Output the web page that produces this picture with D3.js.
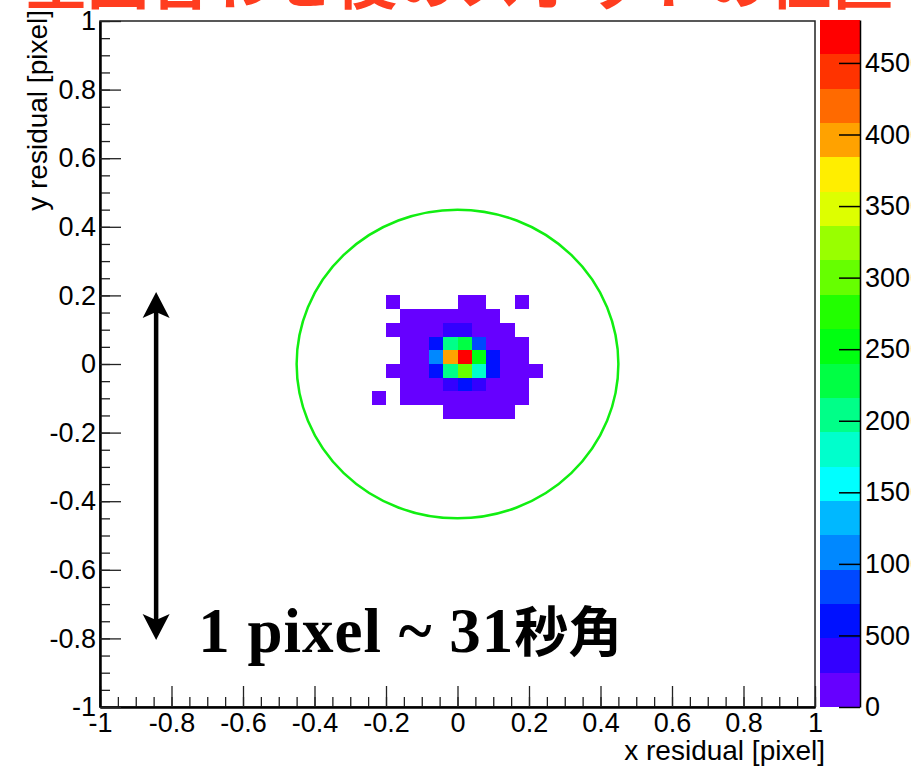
<!DOCTYPE html>
<html>
  <head>
    <meta charset="UTF-8" />
    <style>
      body {
        margin: 0;
        background: #fff;
      }
      svg {
        display: block;
        font-family: "Liberation Sans", Arial, sans-serif;
      }
      .tick text {
        font-size: 27px;
        fill: #000;
      }
      .title {
        font-family: "Noto Sans CJK JP", sans-serif;
        font-weight: 700;
      }
      .note {
        font-family: "Liberation Serif", "Noto Sans CJK JP", serif;
        font-weight: 700;
      }
    </style>
  </head>
  <body>
    <svg></svg>
    <script src="https://d3js.org/d3.v7.min.js"></script>
    <script>
      let width = 911,
        height = 766;

      // bin lower edges (bin size 0.04 pixel)
      const binSize = 0.04;
      const colX = [-0.24, -0.2, -0.16, -0.12, -0.08, -0.04, 0, 0.04, 0.08, 0.12, 0.16, 0.2];
      const rowY = [0.16, 0.12, 0.08, 0.04, 0, -0.04, -0.08, -0.12, -0.16];

      // entries per bin, rows top to bottom
      const counts = [
        [0, 4, 0, 0, 0, 0, 9, 6, 0, 0, 3, 0],
        [0, 0, 12, 28, 45, 70, 84, 52, 30, 0, 0, 0],
        [0, 5, 31, 66, 150, 310, 330, 180, 95, 22, 0, 0],
        [0, 0, 40, 120, 590, 2040, 2290, 830, 210, 64, 11, 0],
        [0, 0, 52, 180, 1060, 3950, 4760, 2510, 600, 110, 18, 0],
        [0, 7, 46, 160, 560, 2010, 2990, 1790, 540, 96, 25, 5],
        [0, 0, 30, 95, 230, 350, 520, 320, 190, 58, 14, 0],
        [3, 0, 16, 40, 88, 140, 160, 120, 70, 26, 8, 0],
        [0, 0, 0, 0, 0, 20, 35, 28, 15, 6, 0, 0],
      ];

      const axisTicks = [-1, -0.8, -0.6, -0.4, -0.2, 0, 0.2, 0.4, 0.6, 0.8, 1];
      const zTicks = [0, 500, 1000, 1500, 2000, 2500, 3000, 3500, 4000, 4500];
      const zMax = 4800;

      // 20 contour colours, low to high
      const palette = [
        "#6600ff", "#3300ff", "#0011ff", "#0048ff", "#0088ff",
        "#00b8ff", "#00ffff", "#00ffcc", "#00ff88", "#00ff44",
        "#00ff11", "#22ff00", "#66ff00", "#99ff00", "#ddff00",
        "#ffee00", "#ffa200", "#ff6a00", "#ff3300", "#ff0000",
      ];

      const circleRadius = 0.45;
      const arrowX = -0.843;
      const arrowEnds = [0.21, -0.805];
      const noteAt = [-0.725, -0.84];
      const titleText = "星図合わせ後のスポットの位置";

      let svg = d3.select("svg").attr("width", width).attr("height", height);

      let x = d3.scaleLinear().domain([-1, 1]).range([100, 815]);
      let y = d3.scaleLinear().domain([-1, 1]).range([707, 21]);
      let z = d3.scaleLinear().domain([0, zMax]).range([707, 20]);
      let color = d3.scaleQuantize().domain([0, zMax]).range(palette);

      let fmt = (d) => String(+d.toFixed(1));

      // title (cut off by the top edge)
      svg
        .append("text")
        .attr("class", "title")
        .attr("x", 25)
        .attr("y", 4)
        .attr("font-size", 62)
        .attr("fill", "#ff3d1f")
        .text(titleText);

      // cells
      let cells = [];
      counts.forEach((row, i) => {
        row.forEach((c, j) => {
          if (c > 0) cells.push({ x0: colX[j], y0: rowY[i], n: c });
        });
      });

      svg
        .append("g")
        .attr("id", "cells")
        .selectAll("rect")
        .data(cells)
        .enter()
        .append("rect")
        .attr("x", (d) => x(d.x0))
        .attr("y", (d) => y(d.y0 + binSize))
        .attr("width", (d) => x(d.x0 + binSize) - x(d.x0))
        .attr("height", (d) => y(d.y0) - y(d.y0 + binSize))
        .attr("fill", (d) => color(d.n))
        .attr("shape-rendering", "crispEdges");

      // green circle
      svg
        .append("ellipse")
        .attr("cx", x(0))
        .attr("cy", y(0))
        .attr("rx", x(circleRadius) - x(0))
        .attr("ry", y(0) - y(circleRadius))
        .attr("fill", "none")
        .attr("stroke", "#11ee11")
        .attr("stroke-width", 2.5);

      // frame
      svg
        .append("rect")
        .attr("x", x(-1))
        .attr("y", y(1))
        .attr("width", x(1) - x(-1))
        .attr("height", y(-1) - y(1))
        .attr("fill", "none")
        .attr("stroke", "#222")
        .attr("stroke-width", 1.5);

      // axes: major + minor ticks pointing inwards
      let minor = d3.range(-1, 1.0001, 0.05);

      let xg = svg.append("g").attr("transform", "translate(0," + y(-1) + ")");
      xg.call(d3.axisBottom(x).tickValues(minor).tickSize(-10).tickSizeOuter(0).tickFormat(""));
      xg.append("g").call(
        d3.axisBottom(x).tickValues(axisTicks).tickSize(-21).tickSizeOuter(0).tickPadding(6).tickFormat(fmt)
      );

      let yg = svg.append("g").attr("transform", "translate(" + x(-1) + ",0)");
      yg.call(d3.axisLeft(y).tickValues(minor).tickSize(-10).tickSizeOuter(0).tickFormat(""));
      yg.append("g").call(
        d3.axisLeft(y).tickValues(axisTicks).tickSize(-21).tickSizeOuter(0).tickPadding(4).tickFormat(fmt)
      );

      svg.selectAll(".domain").attr("stroke-width", 2);
      svg.selectAll(".tick line").attr("stroke", "#222").attr("stroke-width", 1.3);

      // axis titles
      svg
        .append("text")
        .attr("x", 825)
        .attr("y", 760)
        .attr("text-anchor", "end")
        .attr("font-size", 28)
        .text("x residual [pixel]");

      svg
        .append("text")
        .attr("transform", "translate(47,10) rotate(-90)")
        .attr("text-anchor", "end")
        .attr("font-size", 28)
        .text("y residual [pixel]");

      // colour bar
      svg
        .append("g")
        .attr("id", "palette")
        .selectAll("rect")
        .data(palette)
        .enter()
        .append("rect")
        .attr("x", 820)
        .attr("width", 40)
        .attr("y", (c) => z(color.invertExtent(c)[1]))
        .attr("height", (c) => z(color.invertExtent(c)[0]) - z(color.invertExtent(c)[1]))
        .attr("fill", (c) => c)
        .attr("shape-rendering", "crispEdges");

      let zg = svg.append("g").attr("transform", "translate(860,0)");
      zg.call(
        d3.axisRight(z).tickValues(zTicks).tickSize(-21).tickSizeOuter(0).tickPadding(5).tickFormat(d3.format("d"))
      );
      zg.select(".domain").attr("stroke-width", 1.5);
      zg.selectAll(".tick line").attr("stroke", "#000").attr("stroke-width", 1.5);

      // double arrow
      let ax = x(arrowX),
        tipTop = y(arrowEnds[0]),
        tipBot = y(arrowEnds[1]);

      svg
        .append("line")
        .attr("x1", ax)
        .attr("x2", ax)
        .attr("y1", tipTop + 18)
        .attr("y2", tipBot - 18)
        .attr("stroke", "#000")
        .attr("stroke-width", 4.5);

      function head(tipY, dir) {
        let p = d3.path();
        p.moveTo(ax, tipY);
        p.lineTo(ax - 13.5, tipY + dir * 26);
        p.lineTo(ax, tipY + dir * 20);
        p.lineTo(ax + 13.5, tipY + dir * 26);
        p.closePath();
        return p.toString();
      }
      svg.append("path").attr("d", head(tipTop, 1)).attr("fill", "#000");
      svg.append("path").attr("d", head(tipBot, -1)).attr("fill", "#000");

      // note
      let note = svg
        .append("text")
        .attr("class", "note")
        .attr("x", x(noteAt[0]))
        .attr("y", y(noteAt[1]))
        .attr("font-size", 63)
        .attr("letter-spacing", 1)
        .attr("fill", "#000");
      note.append("tspan").text("1 pixel ~ 31");
      note.append("tspan").attr("font-size", 54).attr("letter-spacing", 0).text("秒角");
    </script>
  </body>
</html>
